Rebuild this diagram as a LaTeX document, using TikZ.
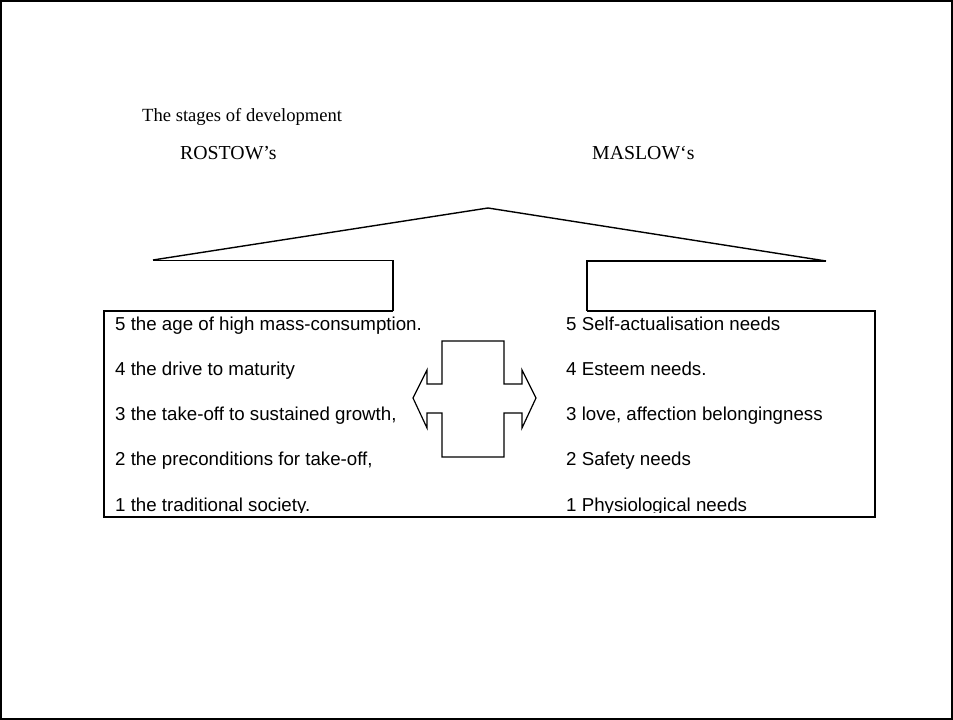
\documentclass[tikz,border=0pt]{standalone}
\usepackage{fontspec}
\setmainfont{Liberation Serif}
\newfontfamily\listfont{Liberation Sans}
\begin{document}
\begin{tikzpicture}[x=1pt,y=-1pt,
  listtext/.style={anchor=base west, inner sep=0pt, font=\listfont\fontsize{18.7}{20}\selectfont},
  headtext/.style={anchor=base west, inner sep=0pt, font=\fontsize{18.6}{20}\selectfont},
  sidetext/.style={anchor=base west, inner sep=0pt, font=\fontsize{19.8}{21}\selectfont},
  outline/.style={line width=1.4pt, line join=miter},
  crossarrow/.style={line width=1.2pt, line join=miter}]
\useasboundingbox (0,0) rectangle (953,720);
% page frame
\draw[line width=2pt] (1,1) rectangle (952,719);

% headings
\node[headtext] (title) at (142,121) {The stages of development};
\node[sidetext] (rostow) at (180,159) {ROSTOW’s};
\node[sidetext] (maslow) at (592,159) {MASLOW‘s};

% roof and the two tabs
\coordinate (roofL) at (153,260);
\coordinate (apex) at (488,208);
\coordinate (roofR) at (826,261);
\draw[outline] (roofL) -- (apex) -- (roofR);
\draw[line width=0.8pt] (roofL) -- (393,260);
\draw[outline] (393,260) -- (393,311);
\draw[outline] (roofR) -- (587,261) -- (587,311);

% the common box
\draw[outline] (393,311) -- (104,311) -- (104,517) -- (875,517) -- (875,311) -- (587,311);

% double arrow in the middle
\draw[crossarrow] (442,341) -- (504,341) -- (504,384) -- (522,384) -- (522,370)
  -- (536,398) -- (522,428) -- (522,413) -- (504,413) -- (504,457) -- (442,457)
  -- (442,413) -- (427,413) -- (427,428) -- (413,398) -- (427,370) -- (427,384)
  -- (442,384) -- cycle;

% the two lists, descenders of the last line cut by the text frame
\begin{scope}
\clip (104,311) rectangle (875,512.5);
\node[listtext] (r5) at (115,330) {5 the age of high mass-consumption.};
\node[listtext] (r4) at (115,375) {4 the drive to maturity};
\node[listtext] (r3) at (115,420) {3 the take-off to sustained growth,};
\node[listtext] (r2) at (115,465) {2 the preconditions for take-off,};
\node[listtext] (r1) at (115,511) {1 the traditional society.};
\node[listtext] (m5) at (566,330) {5 Self-actualisation needs};
\node[listtext] (m4) at (566,375) {4 Esteem needs.};
\node[listtext] (m3) at (566,420) {3 love, affection belongingness};
\node[listtext] (m2) at (566,465) {2 Safety needs};
\node[listtext] (m1) at (566,511) {1 Physiological needs};
\end{scope}
\end{tikzpicture}
\end{document}
